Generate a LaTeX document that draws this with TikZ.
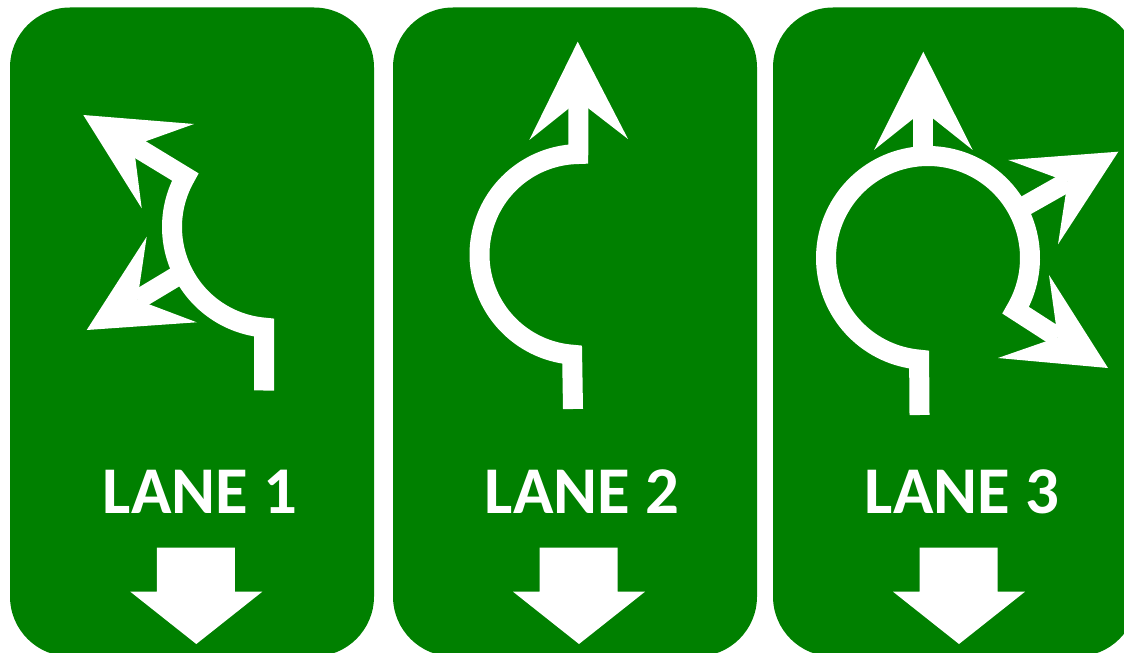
\documentclass[tikz,border=0pt]{standalone}
\usepackage{fontspec}
\usepackage{xcolor}
\usepackage{tikz}
\setmainfont{Carlito}
\definecolor{lanegreen}{RGB}{0,128,0}
\tikzset{
    panelbox/.style={fill=lanegreen, rounded corners=1.8cm},
    roadline/.style={draw=white, line width=0.6cm, miter limit=10},
    headfill/.style={fill=white},
    lanetext/.style={text=white, anchor=base, inner sep=0pt, font=\fontsize{57}{57}\selectfont\bfseries}
}

\begin{document}
\begin{tikzpicture}[x=0.03cm, y=-0.03cm]
    \clip (0,0) rectangle (1124,653);

    % Biển và mũi tên xuống
    \foreach \laneleft/\downx/\textx/\lanenum in {10/196.3/200/1, 393/579/582/2, 773/959/962/3} {
        \fill[panelbox] (\laneleft,7.5) rectangle ++(364,649);
        \node[lanetext] (lane\lanenum) at (\textx,513) {LANE \lanenum};
        \fill[headfill] (\downx-39.5,547.7) -- (\downx+38.5,547.7) -- (\downx+38.5,591.7) -- (\downx+66,591.7)
            -- (\downx,644) -- (\downx-66,591.7) -- (\downx-39.5,591.7) -- cycle;
    }

    % Làn 1
    \draw[roadline] (264,390.5)
        -- plot[samples=60, domain=95:209.7] ({273+101*cos(\x)}, {227+101*sin(\x)}) -- (133.7,145.6);
    \draw[roadline] (183,272.5) -- (137.4,299.9);
    \fill[headfill] (83.3,115) -- (194,124) -- (133.7,145.6) -- (141.7,208.3) -- cycle;
    \fill[headfill] (86.7,330) -- (196.7,322.3) -- (137.4,299.9) -- (146.7,236.7) -- cycle;

    % Làn 2
    \draw[roadline] (573,409)
        -- plot[samples=80, domain=94.5:269] ({580+100.5*cos(\x)}, {254.5+100.5*sin(\x)})
        -- (578.5,100.7);
    \fill[headfill] (577.7,41.7) -- (628,139) -- (578.5,100.7) -- (529.3,140) -- cycle;

    % Làn 3
    \draw[roadline] (919.5,415)
        -- plot[samples=120, domain=95:390.8] ({928+102*cos(\x)}, {258+102*sin(\x)}) -- (1057.6,337.3);
    \draw[roadline] (923,157) -- (923,110.7);
    \draw[roadline] (1016,211) -- (1067.6,181.8);
    \fill[headfill] (923.3,51.7) -- (972.7,150) -- (923.3,110.7) -- (874,150) -- cycle;
    \fill[headfill] (1118.3,151.7) -- (1058,244.3) -- (1067.6,181.8) -- (1008.3,160) -- cycle;
    \fill[headfill] (1108,368) -- (998,358) -- (1057.6,337.3) -- (1049,275) -- cycle;
\end{tikzpicture}
\end{document}
